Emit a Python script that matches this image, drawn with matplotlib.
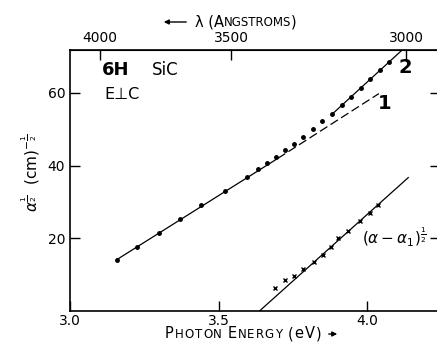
import numpy as np
import matplotlib.pyplot as plt
from matplotlib.offsetbox import TextArea, HPacker, AnnotationBbox

plt.rcParams['font.family'] = ['DejaVu Sans']

# Кривая 2 (точки)
e2 = [3.882, 3.915, 3.945, 3.979, 4.011, 4.044, 4.074]
v2 = [54.3, 56.6, 58.9, 61.4, 63.8, 66.3, 68.4]
# Кривая 1 (точки)
e1 = [3.157, 3.226, 3.299, 3.369, 3.442, 3.522, 3.596, 3.632, 3.662,
      3.693, 3.725, 3.755, 3.786, 3.819, 3.850]
v1 = [14.1, 17.6, 21.5, 25.4, 29.1, 33.0, 36.9, 39.1, 40.6,
      42.4, 44.2, 45.9, 47.9, 50.0, 52.3]
# (alpha - alpha1)^1/2 (крестики)
e3 = [3.691, 3.724, 3.753, 3.784, 3.822, 3.851, 3.880, 3.904, 3.937,
      3.975, 4.009, 4.038]
v3 = [6.4, 8.5, 9.6, 11.5, 13.4, 15.5, 17.5, 20.1, 21.9, 24.7, 27.0, 29.1]

# Прямые, проведённые от руки
fit2_e = [3.882, 4.117]
fit2_v = [54.1, 71.7]
fit1_solid_e = [3.157, 3.700]
fit1_solid_v = [14.1, 42.0]
fit1_dash_e = [3.700, 4.040]
fit1_dash_v = [42.0, 59.8]
fit3_e = [3.638, 4.139]
fit3_v = [0.0, 36.7]

xticks = [3.0, 3.5, 4.0]
yticks = [20, 40, 60]
lam_ticks = [4000, 3500, 3000]
hc = 12398.0

fig = plt.figure(figsize=(4.37, 3.47), dpi=100)
# правая граница осей чуть за краем картинки
ax = fig.add_axes([70/437, 1-311/347, 370/437, 261/347])

ax.plot(fit2_e, fit2_v, color='k', lw=0.9)
ax.plot(fit1_solid_e, fit1_solid_v, color='k', lw=0.9)
ax.plot(fit1_dash_e, fit1_dash_v, color='k', lw=0.9, dashes=(7, 3))
ax.plot(fit3_e, fit3_v, color='k', lw=0.9)
ax.plot(e2, v2, 'o', color='k', ms=2.5)
ax.plot(e1, v1, 'o', color='k', ms=2.5)
ax.plot(e3, v3, 'x', color='k', ms=3, mew=1)

ax.set_xlim(3.0, 3.0 + 370/297)
ax.set_ylim(0, 71.8)
ax.set_xticks(xticks)
ax.set_xticklabels(['3.0', '3.5', '4.0'])
ax.set_yticks(yticks)
ax.tick_params(direction='in', length=7, width=1, labelsize=10,
               right=True, top=False)
ax.tick_params(axis='x', pad=2)
for s in ax.spines.values():
    s.set_linewidth(1.2)

top = ax.secondary_xaxis('top', functions=(lambda e: hc/np.asarray(e, float),
                                           lambda l: hc/np.asarray(l, float)))
top.set_xticks(lam_ticks)
top.set_xticklabels([str(t) for t in lam_ticks])
top.tick_params(direction='in', length=7, width=1, labelsize=10)

ax.set_ylabel(r'$\alpha^{\frac{1}{2}}\ \ (\mathrm{cm})^{-\frac{1}{2}}$', fontsize=11)
ax.yaxis.set_label_coords(-0.075, 0.53)

ax.text(3.152, 66.3, '6H', fontsize=13, fontweight='bold', ha='center', va='center')
ax.text(3.32, 66.3, 'SiC', fontsize=12, ha='center', va='center')
ax.text(3.175, 59.5, 'E\u22a5C', fontsize=11.5, ha='center', va='center')
ax.text(4.128, 66.9, '2', fontsize=14, fontweight='bold', ha='center', va='center')
ax.text(4.061, 57.2, '1', fontsize=14, fontweight='bold', ha='center', va='center')
ax.text(4.094, 20.4, r'$(\alpha-\alpha_{1})^{\frac{1}{2}}$', fontsize=11,
        ha='center', va='center')


def smallcaps(x, y, parts, sep=0, align=(0, 0.5)):
    # капитель: каждая буква отдельным кусочком, с разрядкой sep
    kids = []
    for t, s in parts:
        if sep:
            kids += [TextArea(c if c != ' ' else '\u00a0', textprops=dict(fontsize=s))
                     for c in t]
        else:
            kids.append(TextArea(t, textprops=dict(fontsize=s)))
    box = HPacker(children=kids, align='baseline', pad=0, sep=sep)
    ab = AnnotationBbox(box, (x, y), xycoords='figure pixels', frameon=False,
                        box_alignment=align, pad=0)
    fig.add_artist(ab)


smallcaps(165, 347-334, [('P', 10.5), ('HOTON ', 8.5), ('E', 10.5), ('NERGY ', 8.5),
                         ('(eV)', 10.5)], sep=0.7)
fig.add_artist(plt.Annotation('', xy=(340, 347-334), xytext=(326, 347-334),
                              xycoords='figure pixels',
                              arrowprops=dict(arrowstyle='-|>', lw=1, color='k',
                                              mutation_scale=7)))
smallcaps(195, 347-22, [('\u03bb (A', 10.5), ('NGSTROMS', 8.5), (')', 10.5)])
fig.add_artist(plt.Annotation('', xy=(161, 347-22), xytext=(189, 347-22),
                              xycoords='figure pixels',
                              arrowprops=dict(arrowstyle='-|>', lw=1, color='k',
                                              mutation_scale=7)))

fig.savefig('out.png', dpi=100)
